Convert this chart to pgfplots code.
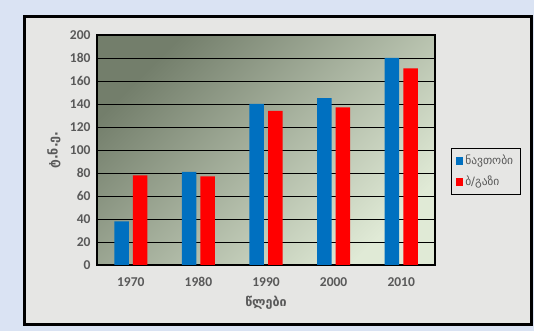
\documentclass[border=0pt]{standalone}
\usepackage{pgfplots}
\pgfplotsset{compat=1.18}
\usepackage{fontspec}
\setmainfont{Carlito}
\newfontfamily\geo{DejaVu Sans}
\definecolor{pagebg}{HTML}{DAE3F3}
\definecolor{panel}{HTML}{E6E6E4}
\definecolor{oil}{HTML}{0070C0}
\definecolor{gas}{HTML}{FF0000}
\definecolor{labelgray}{HTML}{595959}
\definecolor{plotdark}{HTML}{737E6B}
\definecolor{plotlight}{HTML}{E0EAD6}
\begin{document}
\begin{tikzpicture}[x=1pt,y=1pt]
% page and framed chart area
\fill[pagebg] (0,0) rectangle (534,331);
\fill[panel] (24,6) rectangle (531,314);
\draw[line width=3pt] (24,6) rectangle (531,314);
\begin{axis}[
  at={(97pt,66pt)}, anchor=south west,
  scale only axis, width=338pt, height=230pt,
  xmin=-0.5, xmax=4.5, ymin=0, ymax=200,
  xtick={0,1,2,3,4},
  xticklabels={1970,1980,1990,2000,2010},
  ytick={0,20,...,200},
  /pgf/number format/assume math mode=true,
  ymajorgrids,
  major grid style={black, line width=0.9pt},
  axis line style={black, line width=1.6pt},
  tick style={draw=none},
  ticklabel style={font=\bfseries\fontsize{13.5}{14}\selectfont, text=labelgray},
  yticklabel style={xshift=-3pt},
  xticklabel style={anchor=base, yshift=-21pt},
  axis background/.style={top color=plotdark, bottom color=plotlight, shading angle=45},
  xlabel={\geo\bfseries წლები},
  ylabel={\geo\bfseries ტ.ნ.ე.},
  xlabel style={font=\fontsize{12.5}{13}\selectfont, text=labelgray, anchor=center, at={(0.5,-0.165)}},
  ylabel style={font=\fontsize{12.5}{13}\selectfont, text=labelgray, anchor=center, at={(-0.127,0.5)}},
  legend style={at={(1.047,0.51)}, anchor=north west, draw=black, line width=0.8pt,
    fill=none, font=\geo\fontsize{11.5}{13}\selectfont, text=labelgray,
    row sep=6pt, inner xsep=5pt, inner ysep=5pt},
  legend cell align=left,
  legend image code/.code={\fill[#1] (0pt,-4pt) rectangle (7pt,4pt);},
]
\addplot[draw=none, fill=oil, ybar, bar width=14.5pt, bar shift=-9.3pt]
  coordinates {(0,38) (1,81) (2,140) (3,145) (4,180)};
\addlegendentry{ნავთობი}
\addplot[draw=none, fill=gas, ybar, bar width=14.5pt, bar shift=9.3pt]
  coordinates {(0,78) (1,77) (2,134) (3,137) (4,171)};
\addlegendentry{ბ/გაზი}
\end{axis}
\end{tikzpicture}
\end{document}
